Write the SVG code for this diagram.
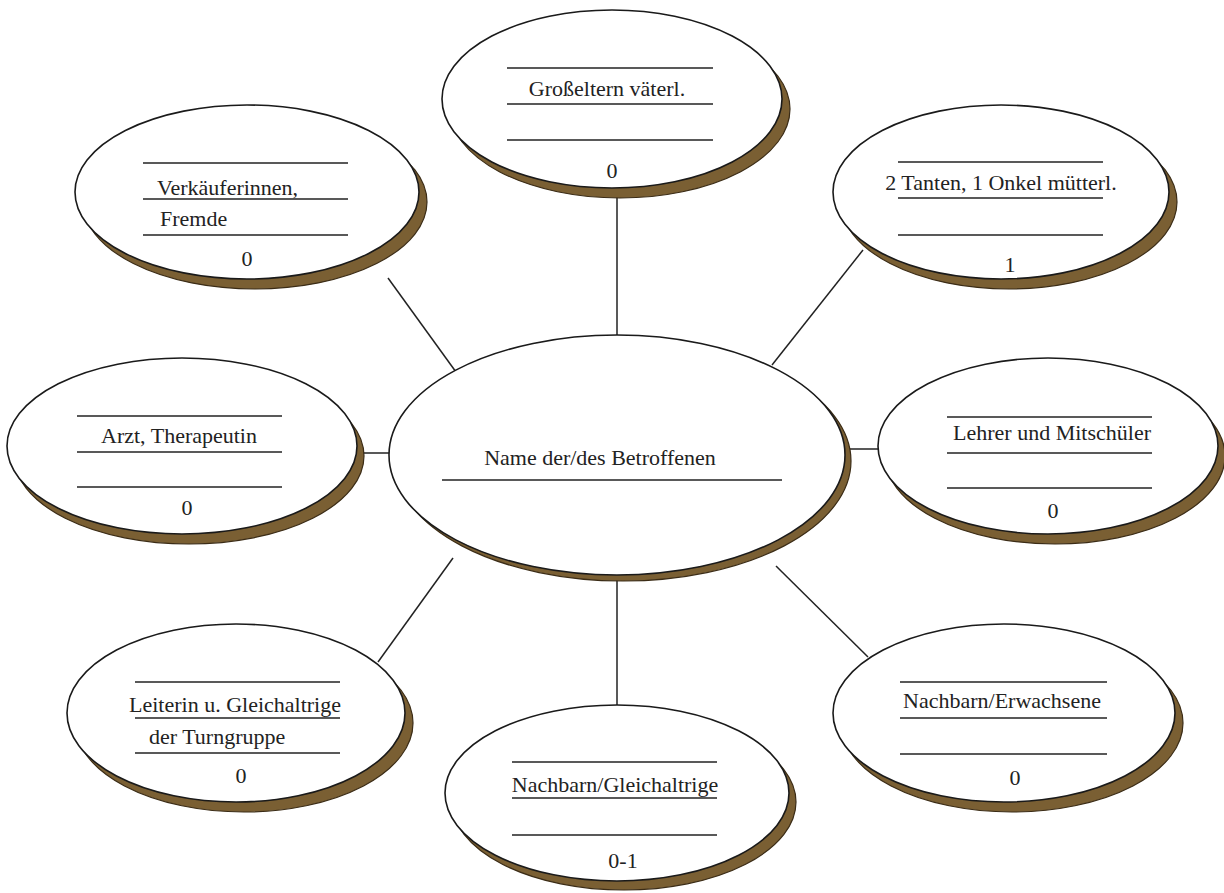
<svg xmlns="http://www.w3.org/2000/svg" width="1224" height="893" viewBox="0 0 1224 893">
<style>
.sh{fill:#7a5f33;stroke:#3b2c16;stroke-width:1.2}
.el{fill:#fff;stroke:#1a1a1a;stroke-width:1.6}
.ln{stroke:#222;stroke-width:1.6}
.cn{stroke:#222;stroke-width:1.5;fill:none}
.t{font-family:"Times New Roman",Times,Tinos,"Liberation Serif","Nimbus Roman","DejaVu Serif",serif;font-size:22px;fill:#222}
.m{text-anchor:middle}
</style>
<rect width="1224" height="893" fill="#fff"/>
<g id="connectors">
<line class="cn" x1="617" y1="190" x2="617" y2="338"/>
<line class="cn" x1="863" y1="250" x2="772" y2="365"/>
<line class="cn" x1="845" y1="449" x2="880" y2="449"/>
<line class="cn" x1="868" y1="657" x2="776" y2="566"/>
<line class="cn" x1="617" y1="578" x2="617" y2="707"/>
<line class="cn" x1="378" y1="662" x2="453" y2="558"/>
<line class="cn" x1="356" y1="453" x2="392" y2="453"/>
<line class="cn" x1="388" y1="278" x2="456" y2="372"/>
</g>
<g id="center">
<ellipse class="sh" cx="623" cy="461" rx="228" ry="120"/>
<ellipse class="el" cx="617" cy="455" rx="228" ry="120"/>
<text class="t m" x="600" y="465">Name der/des Betroffenen</text>
<line class="ln" x1="442" y1="480" x2="782" y2="480"/>
</g>
<g id="n-grosseltern">
<ellipse class="sh" cx="620" cy="109" rx="170" ry="89"/>
<ellipse class="el" cx="612" cy="99" rx="170" ry="89"/>
<line class="ln" x1="507" y1="68" x2="713" y2="68"/>
<text class="t m" x="607" y="96">Großeltern väterl.</text>
<line class="ln" x1="507" y1="104" x2="713" y2="104"/>
<line class="ln" x1="507" y1="140" x2="713" y2="140"/>
<text class="t m" x="612" y="178">0</text>
</g>
<g id="n-verkaeuferinnen">
<ellipse class="sh" cx="255" cy="202" rx="172" ry="87"/>
<ellipse class="el" cx="247" cy="192" rx="172" ry="87"/>
<line class="ln" x1="143" y1="163" x2="348" y2="163"/>
<text class="t" x="157" y="195">Verkäuferinnen,</text>
<line class="ln" x1="143" y1="199" x2="348" y2="199"/>
<text class="t" x="160" y="226">Fremde</text>
<line class="ln" x1="143" y1="235" x2="348" y2="235"/>
<text class="t m" x="247" y="266">0</text>
</g>
<g id="n-tanten">
<ellipse class="sh" cx="1009" cy="202" rx="168" ry="87"/>
<ellipse class="el" cx="1001" cy="192" rx="168" ry="87"/>
<line class="ln" x1="898" y1="162" x2="1103" y2="162"/>
<text class="t m" x="1001" y="190">2 Tanten, 1 Onkel mütterl.</text>
<line class="ln" x1="898" y1="198" x2="1103" y2="198"/>
<line class="ln" x1="898" y1="235" x2="1103" y2="235"/>
<text class="t m" x="1010" y="272">1</text>
</g>
<g id="n-arzt">
<ellipse class="sh" cx="189" cy="456" rx="175" ry="88"/>
<ellipse class="el" cx="182" cy="446" rx="175" ry="88"/>
<line class="ln" x1="77" y1="416" x2="282" y2="416"/>
<text class="t m" x="179" y="443">Arzt, Therapeutin</text>
<line class="ln" x1="77" y1="452" x2="282" y2="452"/>
<line class="ln" x1="77" y1="487" x2="282" y2="487"/>
<text class="t m" x="187" y="515">0</text>
</g>
<g id="n-lehrer">
<ellipse class="sh" cx="1055" cy="456" rx="170" ry="88"/>
<ellipse class="el" cx="1048" cy="446" rx="170" ry="88"/>
<line class="ln" x1="947" y1="417" x2="1152" y2="417"/>
<text class="t m" x="1052" y="440">Lehrer und Mitschüler</text>
<line class="ln" x1="947" y1="453" x2="1152" y2="453"/>
<line class="ln" x1="947" y1="488" x2="1152" y2="488"/>
<text class="t m" x="1053" y="518">0</text>
</g>
<g id="n-leiterin">
<ellipse class="sh" cx="244" cy="723" rx="169" ry="89"/>
<ellipse class="el" cx="236" cy="713" rx="169" ry="89"/>
<line class="ln" x1="135" y1="682" x2="340" y2="682"/>
<text class="t" x="129" y="712">Leiterin u. Gleichaltrige</text>
<line class="ln" x1="135" y1="718" x2="340" y2="718"/>
<text class="t" x="149" y="744">der Turngruppe</text>
<line class="ln" x1="135" y1="753" x2="340" y2="753"/>
<text class="t m" x="241" y="783">0</text>
</g>
<g id="n-nachbarn-gleichaltrige">
<ellipse class="sh" cx="624" cy="802" rx="172" ry="88"/>
<ellipse class="el" cx="617" cy="793" rx="172" ry="88"/>
<line class="ln" x1="512" y1="762" x2="717" y2="762"/>
<text class="t m" x="615" y="792">Nachbarn/Gleichaltrige</text>
<line class="ln" x1="512" y1="798" x2="717" y2="798"/>
<line class="ln" x1="512" y1="835" x2="717" y2="835"/>
<text class="t m" x="623" y="868">0-1</text>
</g>
<g id="n-nachbarn-erwachsene">
<ellipse class="sh" cx="1012" cy="723" rx="171" ry="89"/>
<ellipse class="el" cx="1004" cy="713" rx="171" ry="89"/>
<line class="ln" x1="900" y1="682" x2="1107" y2="682"/>
<text class="t m" x="1002" y="708">Nachbarn/Erwachsene</text>
<line class="ln" x1="900" y1="718" x2="1107" y2="718"/>
<line class="ln" x1="900" y1="754" x2="1107" y2="754"/>
<text class="t m" x="1015" y="785">0</text>
</g>
</svg>
